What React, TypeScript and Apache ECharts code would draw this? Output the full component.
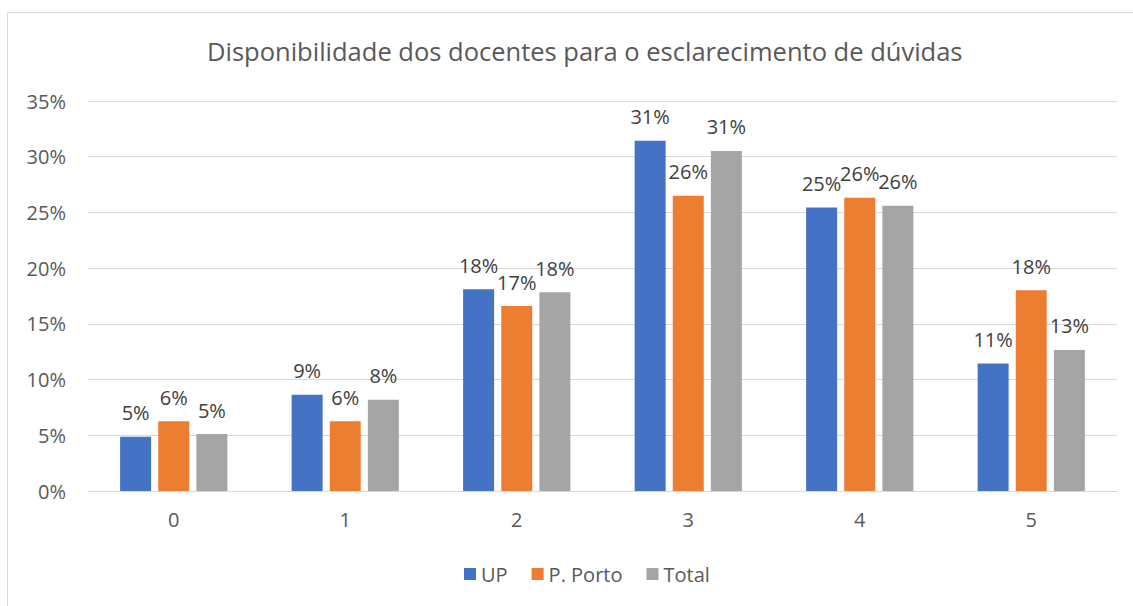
import React, { useEffect, useRef } from "react";
import * as echarts from "echarts";

const categories = ["0", "1", "2", "3", "4", "5"];
const upValues = [4.87, 8.63, 18.1, 31.44, 25.44, 11.44];
const portoValues = [6.27, 6.27, 16.6, 26.49, 26.31, 18.01];
const totalValues = [5.11, 8.18, 17.83, 30.52, 25.59, 12.66];
const seriesNames = ["UP", "P. Porto", "Total"];
const colors = ["#4472C4", "#ED7D31", "#A5A5A5"];
const titleText = "Disponibilidade dos docentes para o esclarecimento de dúvidas";

const FONT = "'Open Sans', 'Noto Sans', sans-serif";

export default function App() {
  const ref = useRef<HTMLDivElement>(null);
  useEffect(() => {
    document.body.style.margin = "0";
    const chart = echarts.init(ref.current!, null, { renderer: "svg" });
    const dataSets = [upValues, portoValues, totalValues];
    chart.setOption({
      animation: false,
      backgroundColor: "#ffffff",
      title: {
        text: titleText,
        left: 202,
        top: 33,
        textStyle: { fontFamily: FONT, fontSize: 25.5, fontWeight: "normal", color: "#595959" },
      },
      graphic: [
        {
          type: "rect",
          shape: { x: 7.5, y: 12.5, width: 1140, height: 620 },
          style: { fill: "none", stroke: "#d9d9d9", lineWidth: 1 },
          silent: true,
        },
      ],
      legend: {
        bottom: 17,
        left: 459,
        itemWidth: 12,
        itemHeight: 12,
        itemGap: 24,
        icon: "rect",
        textStyle: { fontFamily: FONT, fontSize: 20, color: "#595959" },
        data: seriesNames,
      },
      grid: { left: 88, right: 16, top: 101, height: 390 },
      xAxis: {
        type: "category",
        data: categories,
        axisLine: { lineStyle: { color: "#d9d9d9", width: 1 } },
        axisTick: { show: false },
        axisLabel: { fontFamily: FONT, fontSize: 20, color: "#595959", margin: 18 },
      },
      yAxis: {
        type: "value",
        min: 0,
        max: 35,
        interval: 5,
        axisLine: { show: false },
        axisTick: { show: false },
        splitLine: { lineStyle: { color: "#d9d9d9", width: 1 } },
        axisLabel: {
          fontFamily: FONT,
          fontSize: 20,
          color: "#595959",
          margin: 22,
          formatter: (v: number) => `${v}%`,
        },
      },
      series: seriesNames.map((name, i) => ({
        name,
        type: "bar",
        data: dataSets[i],
        barWidth: 31,
        barGap: "23%",
        itemStyle: { color: colors[i] },
        label: {
          show: true,
          position: "top",
          distance: 14,
          fontFamily: FONT,
          fontSize: 20,
          color: "#404040",
          formatter: (p: any) => `${Math.round(p.value)}%`,
        },
      })),
    });
    return () => chart.dispose();
  }, []);
  return <div ref={ref} style={{ width: 1133, height: 606 }} />;
}
